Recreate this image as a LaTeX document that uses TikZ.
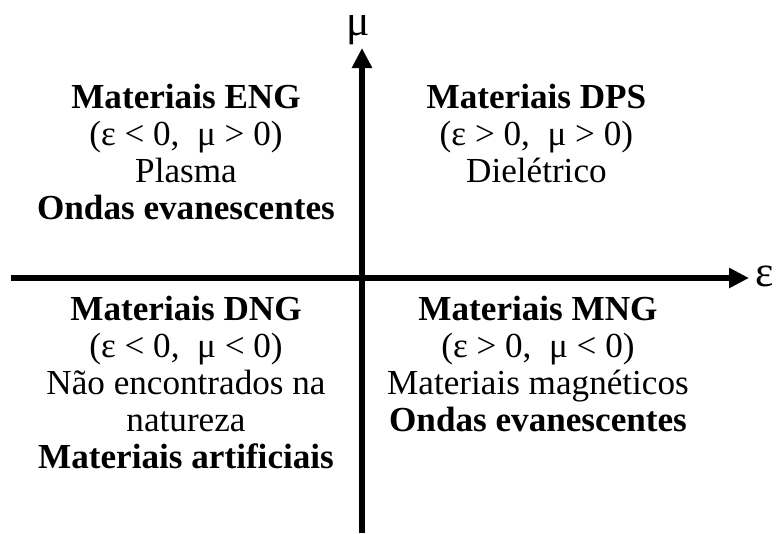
\documentclass[tikz,border=0pt]{standalone}
\usepackage{fontspec}
\setmainfont{Liberation Serif}
\usetikzlibrary{arrows.meta}
\begin{document}
\begin{tikzpicture}[
	axis/.style={line width=4.3pt, black, -{Triangle[length=0.5cm,width=0.48cm]}},
	axislabel/.style={inner sep=0pt, font=\fontsize{31}{31}\selectfont},
	quadtext/.style={align=center, anchor=north, inner sep=0pt, font=\fontsize{25}{26.4}\selectfont}]
		\useasboundingbox (-9.05,-6.375) rectangle (10.35,6.95);
		% axes
		\coordinate (epsstart) at (-8.775,0);
		\coordinate (epsend) at (9.675,0);
		\coordinate (mustart) at (0,-6.375);
		\coordinate (muend) at (0,5.75);
		\draw[axis] (epsstart) -- (epsend);
		\draw[axis] (mustart) -- (muend);
		\node[axislabel] (eps) at (10.075,0.05) {ε};
		\node[axislabel] (mu) at (-0.1,6.2) {μ};
		% quadrants
		\node[quadtext] (eng) at (-4.4,4.86) {\textbf{Materiais ENG}\\(ε < 0,~ μ > 0)\\Plasma\\\textbf{Ondas evanescentes}};
		\node[quadtext] (dps) at (4.36,4.86) {\textbf{Materiais DPS}\\(ε > 0,~ μ > 0)\\Dielétrico};
		\node[quadtext] (dng) at (-4.4,-0.44) {\textbf{Materiais DNG}\\(ε < 0,~ μ < 0)\\Não encontrados na\\natureza\\\textbf{Materiais artificiais}};
		\node[quadtext] (mng) at (4.4,-0.44) {\textbf{Materiais MNG}\\(ε > 0,~ μ < 0)\\Materiais magnéticos\\\textbf{Ondas evanescentes}};
\end{tikzpicture}
\end{document}
